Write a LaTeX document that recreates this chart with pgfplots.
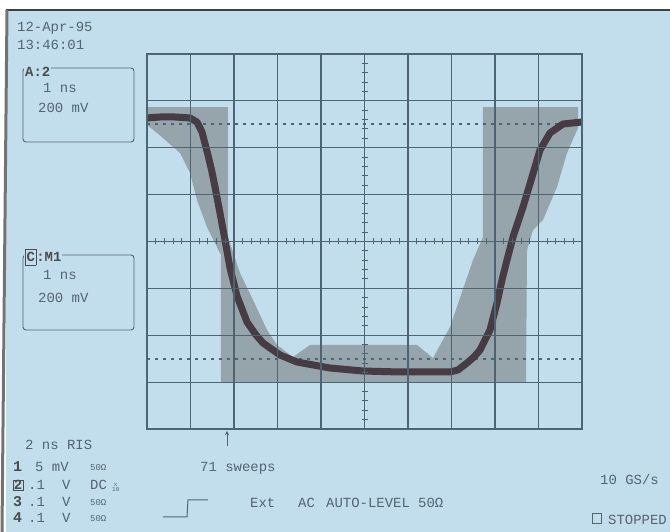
\documentclass[border=0pt]{standalone}
\usepackage{pgfplots}
\pgfplotsset{compat=1.18}
\usepackage{fontspec}
\setmainfont{Liberation Mono}
\definecolor{bg}{RGB}{194,222,237}
\definecolor{gridc}{RGB}{78,100,114}
\definecolor{env}{RGB}{150,164,172}
\definecolor{trace}{RGB}{72,60,68}
\definecolor{txt}{RGB}{84,100,112}
\newcommand\T[3]{\node[anchor=base west,inner sep=0pt,text=txt,font=\fontsize{14}{16}\selectfont] at (#1,#2) {#3};}
\newcommand\Ts[3]{\node[anchor=base west,inner sep=0pt,text=txt,font=\fontsize{9}{10}\selectfont] at (#1,#2) {#3};}
\begin{document}
\begin{tikzpicture}
\begin{scope}[shift={(-147bp,429bp)},x=1bp,y=-1bp]
\fill[white] (0,0) rectangle (670,532);
\fill[bg] (6,10) rectangle (670,532);
\draw[black!75,line width=2bp] (6,10) -- (670,10);
\draw[black!55,line width=3bp] (7,10) -- (2,532);
\end{scope}
\begin{axis}[at={(0,0)},anchor=south west,scale only axis,width=435bp,height=375bp,
  xmin=0,xmax=10,ymin=0,ymax=8,xtick={0,...,10},ytick={0,...,8},
  xticklabels={},yticklabels={},major tick length=0pt,
  grid=major,grid style={gridc,line width=1.2bp},
  axis line style={gridc,line width=1.3bp},axis on top]
\addplot[fill=env,draw=none] coordinates {
(0,6.869)(1.862,6.869)(1.862,4.096)(2.138,3.328)(2.437,2.752)(2.759,2.112)(2.989,1.792)
(3.356,1.536)(3.747,1.792)(6.207,1.792)(6.575,1.515)(6.966,2.176)(7.494,3.605)(7.724,4.096)
(7.724,6.869)(9.908,6.869)(9.908,6.421)(9.655,5.888)(9.425,5.163)(9.103,4.459)(8.874,4.245)
(8.736,3.819)(8.713,1.003)(1.701,1.003)(1.701,3.712)(1.379,4.309)(1.149,4.885)(0.989,5.461)
(0.759,5.888)(0.230,6.315)(0,6.485)} -- cycle;
\addplot[gridc,line width=1.2bp,dash pattern=on 3bp off 5bp] coordinates {(0,6.507)(10,6.507)};
\addplot[gridc,line width=1.2bp,dash pattern=on 3bp off 5bp] coordinates {(0,1.493)(10,1.493)};
\addplot[trace,line width=7bp,line join=round] coordinates {
(0,6.635)(0.299,6.656)(0.644,6.656)(0.989,6.635)(1.149,6.549)(1.264,6.336)(1.402,5.845)
(1.494,5.483)(1.563,5.163)(1.678,4.608)(1.793,4.032)(1.908,3.435)(2.069,2.837)(2.299,2.283)
(2.506,2.005)(2.667,1.835)(3.057,1.579)(3.448,1.429)(4.207,1.301)(4.966,1.237)(5.816,1.216)
(6.966,1.216)(7.149,1.259)(7.356,1.408)(7.517,1.536)(7.655,1.685)(7.885,2.112)(8.046,2.688)
(8.161,3.179)(8.276,3.605)(8.414,4.096)(8.644,4.736)(8.851,5.376)(9.034,5.952)(9.264,6.315)
(9.563,6.507)(10,6.549)};
\end{axis}
\begin{axis}[at={(0,0)},anchor=south west,scale only axis,width=435bp,height=375bp,
  xmin=-5,xmax=5,ymin=-4,ymax=4,axis lines=middle,
  axis line style={gridc,line width=1.2bp,-},
  xtick={-5,...,5},ytick={-4,...,4},minor x tick num=4,minor y tick num=4,
  xticklabels={},yticklabels={},tick align=center,
  major tick length=7bp,minor tick length=6bp,tick style={gridc,line width=1bp}]
\end{axis}
\begin{scope}[shift={(-147bp,429bp)},x=1bp,y=-1bp]
\T{17}{32}{12-Apr-95}
\T{17}{50}{13:46:01}
\draw[txt,line width=0.9bp,rounded corners=3bp] (23,68) rectangle (134,142);
\node[anchor=base west,inner sep=1pt,fill=bg,text=black!70,font=\fontsize{14}{16}\selectfont\bfseries] at (24,77) {A:2};
\T{43}{93}{1 ns}
\T{38}{113}{200 mV}
\draw[txt,line width=0.9bp,rounded corners=3bp] (23,255) rectangle (134,330);
\node[anchor=base west,inner sep=1pt,fill=bg,text=black!70,font=\fontsize{14}{16}\selectfont\bfseries] at (24,262) {\fbox{\kern-2pt C\kern-2pt}:M1};
\T{43}{280}{1 ns}
\T{38}{303}{200 mV}
\T{25}{450}{2 ns RIS}
\node[anchor=base west,inner sep=0pt,text=black!70,font=\fontsize{15}{16}\selectfont\bfseries] at (13,472) {1};
\T{35}{472}{5 mV}\Ts{90}{471}{50Ω}
\node[anchor=base west,inner sep=0.6pt,draw=black!70,text=black!70,font=\fontsize{14}{16}\selectfont\bfseries] at (13,490) {2};
\T{28}{490}{.1}\T{62}{490}{V}\T{90}{490}{DC}
\node[anchor=base west,inner sep=0pt,text=txt,font=\fontsize{6}{6}\selectfont,align=center] at (112,492) {x\\10};
\node[anchor=base west,inner sep=0pt,text=black!70,font=\fontsize{15}{16}\selectfont\bfseries] at (13,507) {3};
\T{28}{507}{.1}\T{62}{507}{V}\Ts{90}{506}{50Ω}
\node[anchor=base west,inner sep=0pt,text=black!70,font=\fontsize{15}{16}\selectfont\bfseries] at (13,523) {4};
\T{28}{523}{.1}\T{62}{523}{V}\Ts{90}{522}{50Ω}
\draw[txt,line width=0.9bp,-stealth] (227,446) -- (227,431);
\T{200}{472}{71 sweeps}
\draw[txt,line width=1bp] (163,517) -- (187,517) -- (188,500) -- (208,500);
\T{250}{508}{Ext}\T{298}{508}{AC}\T{326}{508}{AUTO-LEVEL}\T{418}{508}{50Ω}
\T{600}{485}{10 GS/s}
\draw[txt,line width=1bp] (593,514) rectangle (602,524);
\T{608}{525}{STOPPED}
\end{scope}
\pgfresetboundingbox
\path (-147bp,-103bp) rectangle (523bp,429bp);
\end{tikzpicture}
\end{document}
